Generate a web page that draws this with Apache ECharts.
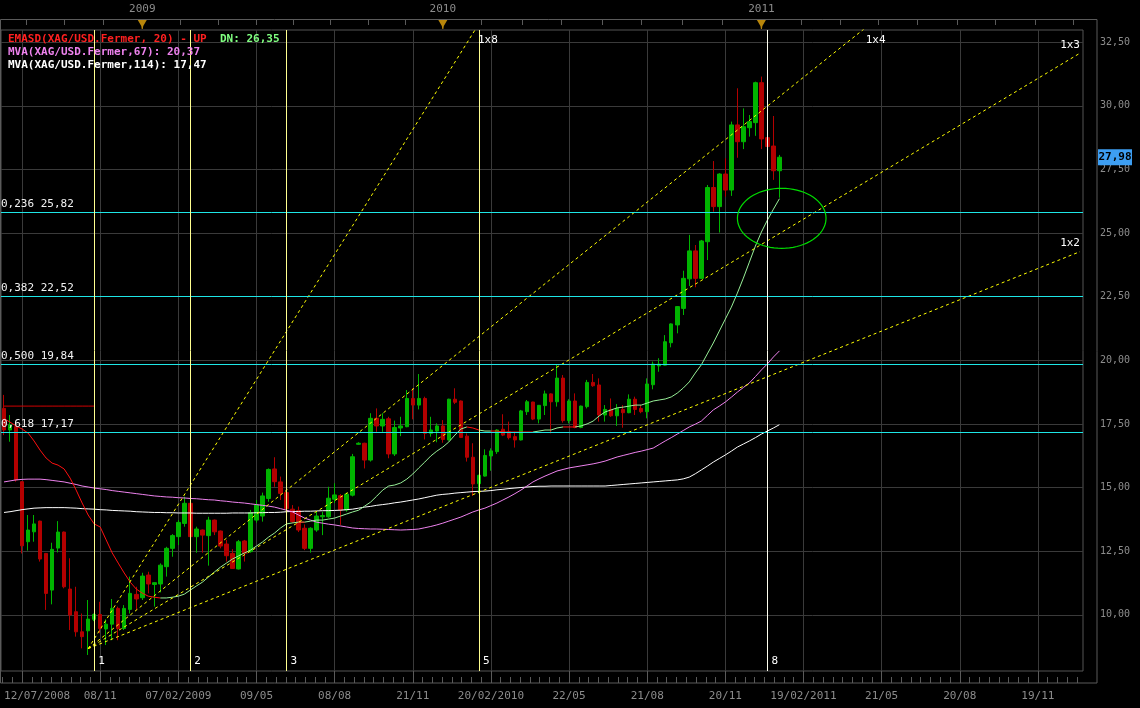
<!DOCTYPE html>
<html>
<head>
<meta charset="utf-8">
<title>XAG/USD</title>
<script src="https://cdn.jsdelivr.net/npm/echarts@6/dist/echarts.min.js"></script>
<style>
html,body{margin:0;padding:0;background:#000;}
#chart{width:1140px;height:708px;}
</style>
</head>
<body>
<div id="chart"></div>
<script>
// ---------------- DATA ----------------
const slotCount = 180; // category slots on the time axis (candles + empty future)

const candleOpen = [
18.11,17.26,17.39,15.23,12.87,13.26,13.68,12.41,10.97,12.62,
13.25,11.01,10.12,9.33,9.37,9.82,10.01,9.44,9.63,10.25,
9.46,10.21,10.80,10.67,11.56,11.19,11.21,11.89,12.61,13.07,
13.59,14.38,13.07,13.33,13.11,13.72,13.29,12.78,12.41,11.80,
12.90,12.48,13.72,13.88,14.57,15.73,15.22,14.80,14.15,14.09,
13.40,12.61,13.33,13.85,13.85,14.54,14.68,14.12,14.70,16.70,
16.74,16.08,17.72,17.42,17.70,16.32,17.34,17.39,18.50,18.24,
18.50,17.13,17.22,17.42,16.87,18.47,18.40,17.02,16.19,15.15,
15.45,16.24,16.41,17.29,17.19,17.00,16.87,17.98,18.36,17.69,
18.22,18.68,18.37,19.30,17.63,18.40,17.36,18.18,19.13,19.03,
17.85,18.07,17.82,18.07,17.94,18.47,18.11,17.98,19.04,19.78,
19.81,20.69,21.39,22.04,23.20,24.30,23.22,24.66,26.79,26.04,
27.32,26.69,29.25,28.59,29.14,29.34,30.91,28.75,28.42,27.45];
const candleClose = [
17.26,17.46,15.30,12.71,13.33,13.57,12.19,10.84,12.57,13.25,
11.10,9.99,9.33,9.14,9.83,10.01,9.46,9.63,10.25,9.46,
10.25,10.84,10.62,11.52,11.21,11.26,11.95,12.61,13.11,13.63,
14.38,13.07,13.37,13.13,13.72,13.26,12.70,12.32,11.82,12.87,
12.41,14.01,14.31,14.67,15.71,15.23,14.77,14.17,13.66,13.33,
12.61,13.40,13.88,13.90,14.58,14.71,14.12,14.74,16.21,16.74,
16.08,17.72,17.42,17.68,16.32,17.36,17.42,18.50,18.24,18.50,
17.13,17.26,17.42,16.89,18.47,18.35,16.97,16.19,15.14,15.48,
16.26,16.44,17.26,17.06,16.96,16.87,18.01,18.37,17.69,18.23,
18.68,18.37,19.30,17.63,18.40,17.36,18.20,19.13,19.00,17.85,
18.07,17.82,18.11,17.94,18.47,18.07,17.98,19.07,19.85,19.85,
20.73,21.43,22.11,23.22,24.30,23.22,24.69,26.79,26.04,27.32,
26.69,29.25,28.59,29.18,29.38,30.91,28.70,28.40,27.45,27.98];
const candleHigh = [
18.64,17.85,17.45,15.25,13.92,13.92,13.70,12.43,12.83,13.68,
13.27,12.22,11.10,10.05,10.58,10.05,10.51,9.82,10.62,10.32,
10.38,11.50,11.10,11.65,11.69,11.28,12.02,12.67,13.17,13.72,
14.64,14.40,13.46,13.35,13.85,13.74,13.31,12.94,12.58,12.94,
12.94,14.12,14.51,14.80,15.75,16.19,15.43,14.90,14.31,14.25,
13.55,13.44,14.05,14.05,15.03,15.17,14.74,14.80,16.32,16.78,
16.76,17.92,18.11,17.92,17.78,17.63,17.78,18.83,18.90,19.46,
18.57,17.78,17.52,17.65,18.49,18.90,18.42,17.13,16.74,15.50,
16.50,16.54,17.29,17.88,17.59,17.19,18.05,18.44,18.37,18.24,
18.81,18.70,19.82,19.42,18.47,18.70,18.22,19.23,19.46,19.29,
18.24,18.50,18.28,18.24,18.66,18.57,18.24,19.29,19.95,20.08,
20.99,21.45,22.13,23.52,24.93,24.53,24.73,26.89,27.83,27.35,
27.94,29.38,30.69,29.90,29.64,30.95,31.15,28.77,29.60,28.07];
const candleLow = [
17.06,16.80,15.23,12.41,12.52,12.87,12.09,10.19,10.41,12.45,
11.04,9.40,9.14,8.68,8.42,9.75,9.27,8.81,9.00,9.00,
9.40,10.05,10.19,10.58,10.84,10.32,10.88,11.50,12.28,12.74,
13.46,13.05,12.44,12.44,11.93,13.13,12.61,12.09,11.80,11.78,
12.09,12.44,13.62,13.66,14.44,15.03,14.51,14.12,13.60,13.25,
12.54,12.44,13.26,13.13,13.81,14.39,13.53,14.05,14.65,16.68,
15.75,16.02,17.19,17.19,16.15,16.24,17.02,17.37,17.68,18.07,
16.89,17.00,16.78,16.76,16.84,18.28,16.95,16.02,14.67,14.77,
15.43,15.66,16.32,17.02,16.89,16.57,16.85,17.85,17.65,17.52,
17.85,17.13,18.18,17.55,17.52,17.33,17.33,18.11,18.96,17.59,
17.59,17.78,17.42,17.35,17.92,17.85,17.92,17.72,18.86,19.55,
19.80,20.51,21.06,21.78,22.92,22.87,23.20,23.94,25.84,25.02,
26.43,26.46,27.96,28.30,28.79,28.82,28.30,28.38,27.09,26.39];

// EMASD trend-stop line (red while DN, light green while UP)
const emaValues = [
17.71,17.57,17.42,17.30,17.14,16.83,16.47,16.16,15.96,15.88,
15.73,15.37,14.90,14.39,13.92,13.57,13.45,12.94,12.43,12.03,
11.64,11.28,11.01,10.85,10.73,10.69,10.66,10.66,10.69,10.73,
10.81,10.97,11.13,11.28,11.48,11.68,11.87,12.03,12.19,12.31,
12.43,12.54,12.70,12.86,13.05,13.21,13.41,13.57,13.61,13.64,
13.64,13.68,13.72,13.72,13.76,13.80,13.88,13.96,14.04,14.11,
14.27,14.43,14.66,14.90,15.06,15.10,15.18,15.33,15.53,15.77,
16.00,16.24,16.43,16.59,16.79,17.06,17.30,17.38,17.34,17.26,
17.22,17.22,17.22,17.18,17.18,17.18,17.18,17.18,17.18,17.22,
17.26,17.26,17.34,17.38,17.38,17.38,17.42,17.50,17.61,17.81,
17.97,18.05,18.13,18.16,18.20,18.24,18.24,18.32,18.40,18.44,
18.48,18.56,18.71,18.91,19.15,19.50,19.82,20.25,20.68,21.15,
21.62,22.09,22.64,23.23,23.86,24.49,25.04,25.51,25.94,26.35];
const emaDownRanges = [[0,26],[49,50],[77,79],[81,88],[93,95]];
const emaUpLevel = [18.20,18.20,18.20,18.20,18.20,18.20,18.20,18.20,18.20,18.20,18.20,18.20,18.20,18.20,18.20,18.20];

const mva67 = [
15.22,15.26,15.30,15.32,15.33,15.33,15.33,15.31,15.28,15.25,
15.22,15.17,15.12,15.06,15.02,14.98,14.95,14.92,14.88,14.85,
14.82,14.79,14.76,14.73,14.70,14.67,14.65,14.63,14.62,14.60,
14.59,14.57,14.56,14.54,14.52,14.51,14.48,14.46,14.43,14.41,
14.39,14.36,14.33,14.30,14.27,14.23,14.17,14.11,14.04,13.92,
13.80,13.72,13.64,13.60,13.56,13.53,13.49,13.45,13.41,13.39,
13.38,13.37,13.37,13.36,13.35,13.34,13.33,13.34,13.35,13.37,
13.42,13.47,13.53,13.60,13.68,13.76,13.84,13.94,14.04,14.12,
14.19,14.29,14.39,14.51,14.63,14.76,14.90,15.06,15.22,15.34,
15.45,15.55,15.65,15.71,15.77,15.81,15.85,15.89,15.93,15.98,
16.04,16.12,16.20,16.26,16.32,16.38,16.43,16.49,16.55,16.69,
16.83,16.96,17.10,17.24,17.38,17.49,17.61,17.83,18.05,18.20,
18.36,18.55,18.75,18.93,19.11,19.36,19.62,19.86,20.13,20.37];
const mva114 = [
14.02,14.05,14.09,14.13,14.16,14.19,14.20,14.21,14.21,14.21,
14.21,14.20,14.19,14.17,14.16,14.15,14.13,14.12,14.10,14.09,
14.08,14.07,14.05,14.04,14.03,14.02,14.02,14.01,14.01,14.00,
14.00,14.00,13.99,13.99,13.99,13.99,13.99,13.99,14.00,14.00,
14.00,14.00,14.01,14.01,14.02,14.02,14.03,14.05,14.06,14.06,
14.07,14.07,14.08,14.09,14.09,14.10,14.11,14.13,14.15,14.19,
14.23,14.26,14.30,14.33,14.36,14.40,14.43,14.47,14.51,14.55,
14.60,14.65,14.70,14.73,14.75,14.78,14.80,14.82,14.84,14.85,
14.86,14.88,14.91,14.93,14.96,14.98,15.00,15.02,15.04,15.05,
15.05,15.06,15.06,15.06,15.06,15.06,15.06,15.06,15.06,15.06,
15.06,15.08,15.10,15.12,15.14,15.16,15.18,15.20,15.22,15.24,
15.26,15.28,15.30,15.34,15.41,15.54,15.69,15.84,16.00,16.14,
16.28,16.43,16.59,16.71,16.83,16.96,17.10,17.22,17.34,17.47];

// Fibonacci retracement levels
const fibRatios = ['0,236','0,382','0,500','0,618'];
const fibValues = [25.82, 22.52, 19.84, 17.17];
// Fibonacci time zones (candle index)
const fibTimeIndex = [15, 31, 47, 79, 127];
const fibTimeLabels = ['1','2','3','5','8'];
// Gann fan from the low
const gannOrigin = [14, 8.67];
const gannEndIndex = 179;
const gannNames = ['1x8','1x4','1x3','1x2'];
const gannEndValues = [71.0, 39.8, 32.07, 24.27];
// Ellipse annotation (value-x units, price)
const ellipseCenter = [129.88, 25.58];
const ellipseRadius = [7.37, 1.18];

// Axis ticks / labels
const yMin = 7.79, yMax = 32.98;
const yTickValues = [10, 12.5, 15, 17.5, 20, 22.5, 25, 27.5, 30, 32.5];
const xLabelIndex = [0, 16, 29, 42, 55, 68, 81, 94, 107, 120, 133, 146, 159, 172];
const xLabels = ['12/07/2008','08/11','07/02/2009','09/05','08/08','21/11','20/02/2010','22/05','21/08','20/11','19/02/2011','21/05','20/08','19/11'];
const xGridValues = [3.5, 16.5, 29.5, 42.5, 55.5, 68.5, 81.5, 94.5, 107.5, 120.5, 133.5, 146.5, 159.5, 172.5];
const topTickValues = [4.16,10.48,16.97,23.5,29.78,36.10,42.42,48.58,54.73,61.05,67.20,73.5,79.86,86.68,93.16,99.98,106.47,113.29,119.95,126.5,133.09,139.58,145.90,152.39,159.04,165.36,172.02,178.34];
const yearTickValues = [23.5, 73.5, 126.5];
const yearLabels = ['2009','2010','2011'];

// ---------------- BUILD ----------------
const FONT = 'DejaVu Sans Mono';
const fmt = v => v.toFixed(2).replace('.', ',');
const categories = Array.from({length: slotCount}, (_, i) => String(i));
const labelMap = new Map(xLabelIndex.map((idx, k) => [idx, xLabels[k]]));
const candleData = candleOpen.map((o, i) => [o, candleClose[i], candleLow[i], candleHigh[i]]);
const isDown = i => emaDownRanges.some(r => i >= r[0] && i <= r[1]);
const nEma = emaValues.length;
const emaRed = emaValues.map((v, i) => isDown(i) ? v : null);
const emaGreen = emaValues.map((v, i) => (!isDown(i) || (i > 0 && !isDown(i - 1)) || (i < nEma - 1 && !isDown(i + 1))) ? v : null);

const xMinor = [];
const gStep = xGridValues[1] - xGridValues[0];
[xGridValues[0] - gStep].concat(xGridValues).forEach(m => {
  for (let j = 1; j < 8; j++) { const v = m + j * gStep / 8; if (v >= 0 && v <= slotCount) xMinor.push(v); }
});
const yMinor = [];
for (let v = Math.ceil(yMin * 2) / 2; v <= yMax; v += 0.5) { if (Math.abs(v / 2.5 - Math.round(v / 2.5)) > 1e-6) yMinor.push(v); }

const last = nEma - 1;
const legendText =
  '{r|EMASD(XAG/USD.Fermer, 20) - UP}{g|  DN: ' + fmt(emaValues[last]) + '}\n' +
  '{m|MVA(XAG/USD.Fermer,67): ' + fmt(mva67[mva67.length - 1]) + '}\n' +
  '{w|MVA(XAG/USD.Fermer,114): ' + fmt(mva114[mva114.length - 1]) + '}';

const lineBase = {type: 'line', xAxisIndex: 0, yAxisIndex: 0, symbol: 'none', silent: true, animation: false};

const gannSeries = gannNames.map((name, k) => Object.assign({}, lineBase, {
  name: name, z: 4,
  data: [[gannOrigin[0], gannOrigin[1]], [gannEndIndex, gannEndValues[k]]],
  lineStyle: {color: '#ffff00', width: 1, type: [3, 3]}
}));

const option = {
  backgroundColor: '#000',
  animation: false,
  textStyle: {fontFamily: FONT},
  title: {
    left: 8, top: 33, padding: 0, text: legendText,
    textStyle: {
      fontFamily: FONT, fontSize: 11, lineHeight: 13,
      rich: {
        r: {color: '#ff2020', fontFamily: FONT, fontSize: 11, lineHeight: 13},
        g: {color: '#80ff80', fontFamily: FONT, fontSize: 11, lineHeight: 13},
        m: {color: '#ee82ee', fontFamily: FONT, fontSize: 11, lineHeight: 13},
        w: {color: '#ffffff', fontFamily: FONT, fontSize: 11, lineHeight: 13}
      }
    }
  },
  grid: {left: 1, right: 57, top: 30, bottom: 37, show: true, borderColor: '#555', borderWidth: 1, backgroundColor: 'transparent'},
  xAxis: [
    {
      type: 'category', data: categories, boundaryGap: true, position: 'bottom', offset: 12,
      axisLine: {show: false}, axisTick: {show: false}, splitLine: {show: false},
      axisLabel: {
        interval: (i) => labelMap.has(i),
        formatter: (v, i) => labelMap.get(i) || '',
        color: '#8c8c8c', fontFamily: FONT, fontSize: 11, margin: 8, alignMinLabel: 'left'
      }
    },
    {
      type: 'value', min: 0, max: slotCount, position: 'top', offset: 11,
      axisLine: {show: false}, splitLine: {show: false},
      axisTick: {show: true, inside: true, length: 6, customValues: topTickValues, lineStyle: {color: '#5a5a5a'}},
      axisLabel: {
        show: true, customValues: yearTickValues,
        formatter: v => { const k = yearTickValues.findIndex(t => Math.abs(t - v) < 1e-6); return k >= 0 ? yearLabels[k] : ''; },
        color: '#8c8c8c', fontFamily: FONT, fontSize: 11, margin: 4
      }
    },
    {
      type: 'value', min: 0, max: slotCount, position: 'bottom', offset: 12,
      axisLine: {show: false}, axisLabel: {show: false},
      axisTick: {show: true, inside: true, length: 12, customValues: xGridValues, lineStyle: {color: '#5a5a5a'}},
      splitLine: {show: true, lineStyle: {color: '#3a3a3a', width: 1}}
    },
    {
      type: 'value', min: 0, max: slotCount, position: 'bottom', offset: 12,
      axisLine: {show: false}, axisLabel: {show: false}, splitLine: {show: false},
      axisTick: {show: true, inside: true, length: 6, customValues: xMinor, lineStyle: {color: '#5a5a5a'}}
    }
  ],
  yAxis: [
    {
      type: 'value', position: 'right', offset: 14, min: yMin, max: yMax,
      axisLine: {show: false},
      axisTick: {show: true, inside: true, length: 14, customValues: yTickValues, lineStyle: {color: '#5a5a5a'}},
      axisLabel: {customValues: yTickValues, formatter: v => fmt(v), color: '#8c8c8c', fontFamily: FONT, fontSize: 10, margin: 3},
      splitLine: {show: true, lineStyle: {color: '#3a3a3a', width: 1}}
    },
    {
      type: 'value', position: 'right', offset: 14, min: yMin, max: yMax,
      axisLine: {show: false}, axisLabel: {show: false}, splitLine: {show: false},
      axisTick: {show: true, inside: true, length: 7, customValues: yMinor, lineStyle: {color: '#5a5a5a'}}
    }
  ],
  series: [
    {
      type: 'candlestick', name: 'XAG/USD', xAxisIndex: 0, yAxisIndex: 0, data: candleData, barWidth: 4, z: 2,
      itemStyle: {color: '#00b400', color0: '#b40000', borderColor: '#00b400', borderColor0: '#b40000', borderWidth: 1},
      markLine: {
        symbol: 'none', silent: true, animation: false,
        data: fibValues.map((v, k) => ({
          yAxis: v,
          lineStyle: {color: '#1ee6e6', width: 1, type: 'solid'},
          label: {show: true, position: 'insideStartTop', formatter: fibRatios[k] + ' ' + fmt(v), color: '#f2f2f2', fontFamily: FONT, fontSize: 11, distance: [0, 3]}
        })).concat(fibTimeIndex.map((idx, k) => ({
          xAxis: idx,
          lineStyle: {color: k === fibTimeIndex.length - 1 ? '#fffff0' : '#ffff90', width: 1, type: 'solid'},
          label: {show: false}
        })))
      }
    },
    Object.assign({}, lineBase, {name: 'MVA114', data: mva114, z: 3, lineStyle: {color: '#ffffff', width: 1}}),
    Object.assign({}, lineBase, {name: 'MVA67', data: mva67, z: 3, lineStyle: {color: '#ee82ee', width: 1}}),
    Object.assign({}, lineBase, {name: 'EMASD up', data: emaGreen, z: 3, lineStyle: {color: '#98f098', width: 1}}),
    Object.assign({}, lineBase, {name: 'EMASD dn', data: emaRed, z: 3, lineStyle: {color: '#ff1010', width: 1}}),
    Object.assign({}, lineBase, {name: 'EMASD level', data: emaUpLevel, z: 3, lineStyle: {color: '#d00000', width: 1}}),
    ...gannSeries,
    {
      type: 'custom', xAxisIndex: 2, yAxisIndex: 0, silent: true, z: 6,
      data: [[ellipseCenter[0], ellipseCenter[1], ellipseRadius[0], ellipseRadius[1]]],
      renderItem: function (params, api) {
        const cx = api.value(0), cy = api.value(1), rx = api.value(2), ry = api.value(3);
        const pts = [];
        for (let a = 0; a < 72; a++) {
          const t = a / 72 * Math.PI * 2;
          pts.push(api.coord([cx + rx * Math.cos(t), cy + ry * Math.sin(t)]));
        }
        return {type: 'polygon', shape: {points: pts}, style: {fill: 'none', stroke: '#00dd00', lineWidth: 1.2}};
      }
    }
  ]
};

const chart = echarts.init(document.getElementById('chart'));
chart.setOption(option);

// ------------- annotations positioned through the axes -------------
const g = [];
g.push({type: 'rect', silent: true, z: 1, shape: {x: 0.5, y: 19.5, width: 1096.5, height: 663.5}, style: {fill: 'none', stroke: '#5a5a5a', lineWidth: 1}});
yearTickValues.forEach(v => {
  const x = chart.convertToPixel({xAxisIndex: 1}, v);
  g.push({type: 'polygon', silent: true, z: 50, shape: {points: [[x - 4.5, 20], [x + 4.5, 20], [x + 1, 26], [x + 0.5, 29], [x - 0.5, 29], [x - 1, 26]]}, style: {fill: '#b8860b'}});
});
const yBottomPx = chart.convertToPixel({yAxisIndex: 0}, yMin);
const yTopPx = chart.convertToPixel({yAxisIndex: 0}, yMax);
fibTimeIndex.forEach((idx, k) => {
  const x = chart.convertToPixel({xAxisIndex: 2}, idx + 0.5);
  g.push({type: 'text', silent: true, z: 50, x: x + 4, y: yBottomPx - 10,
    style: {text: fibTimeLabels[k], fill: '#ffffff', font: '11px ' + FONT, textAlign: 'left', align: 'left', textVerticalAlign: 'middle', verticalAlign: 'middle'}});
});
gannNames.forEach((name, k) => {
  const slope = (gannEndValues[k] - gannOrigin[1]) / (gannEndIndex - gannOrigin[0]);
  if (gannEndValues[k] > yMax) {
    const idx = gannOrigin[0] + (yMax - gannOrigin[1]) / slope;
    const x = chart.convertToPixel({xAxisIndex: 2}, idx + 0.5);
    g.push({type: 'text', silent: true, z: 50, x: x + 3, y: yTopPx + 10,
      style: {text: name, fill: '#ffffff', font: '11px ' + FONT, textAlign: 'left', align: 'left', textVerticalAlign: 'middle', verticalAlign: 'middle'}});
  } else {
    const x = chart.convertToPixel({xAxisIndex: 2}, gannEndIndex + 0.5);
    const y = chart.convertToPixel({yAxisIndex: 0}, gannEndValues[k]);
    g.push({type: 'text', silent: true, z: 50, x: x, y: y - 8,
      style: {text: name, fill: '#ffffff', font: '11px ' + FONT, textAlign: 'right', align: 'right', textVerticalAlign: 'middle', verticalAlign: 'middle'}});
  }
});
const lastClose = candleClose[candleClose.length - 1];
const yp = chart.convertToPixel({yAxisIndex: 0}, lastClose);
g.push({type: 'rect', silent: true, z: 60, shape: {x: 1098, y: yp - 8, width: 34, height: 16}, style: {fill: '#3d9ef2'}});
g.push({type: 'text', silent: true, z: 61, x: 1115, y: yp,
  style: {text: fmt(lastClose), fill: '#000000', font: 'bold 11px ' + FONT, textAlign: 'center', align: 'center', textVerticalAlign: 'middle', verticalAlign: 'middle'}});
chart.setOption({graphic: g});
</script>
</body>
</html>
